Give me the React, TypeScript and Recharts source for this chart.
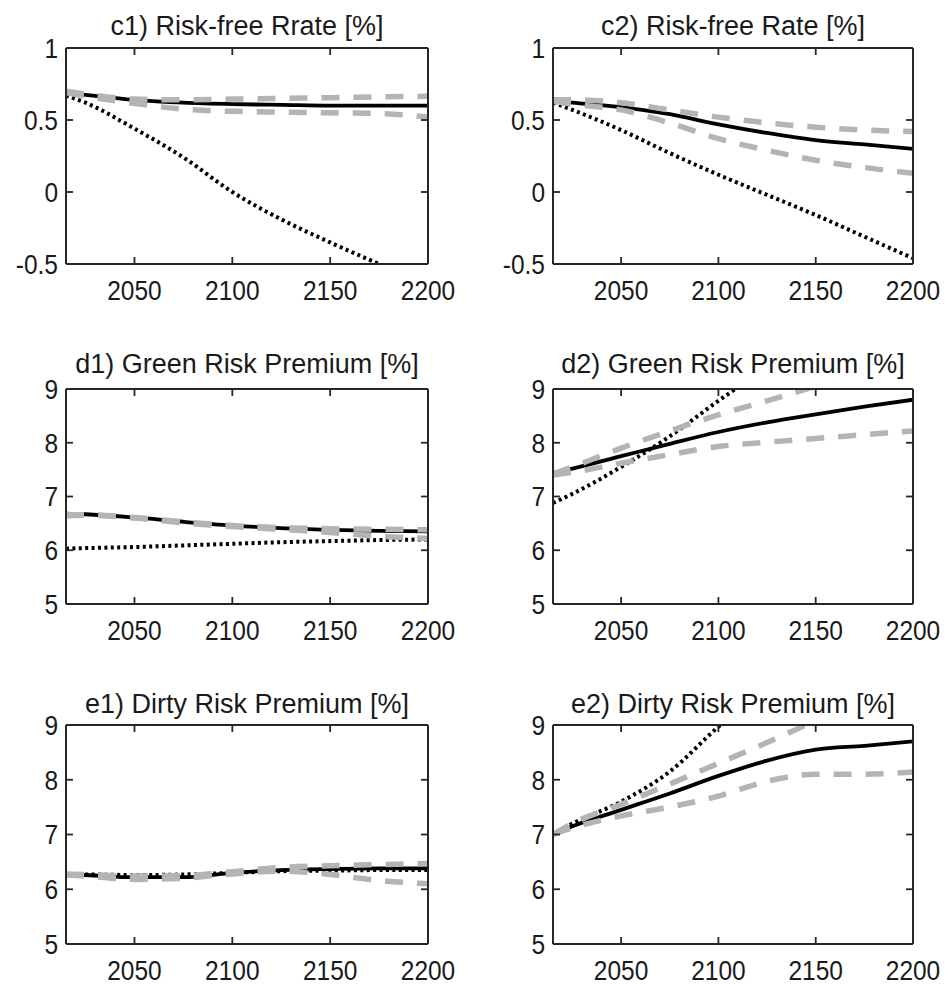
import { ComposedChart, Line, Scatter, XAxis, YAxis } from "recharts"

// ---- data ----
const years = [2015, 2025, 2050, 2075, 2100, 2125, 2150, 2175, 2200]
const xTicks = [2050, 2100, 2150, 2200]
const rateTicks = [-0.5, 0, 0.5, 1]
const premTicks = [5, 6, 7, 8, 9]

const c1Solid = [0.69, 0.675, 0.64, 0.62, 0.61, 0.605, 0.6, 0.6, 0.6]
const c1Dotted = [0.67, 0.62, 0.44, 0.24, 0.0, -0.19, -0.35, -0.5, null]
const c1GrayUp = [0.7, 0.68, 0.645, 0.64, 0.645, 0.65, 0.655, 0.66, 0.665]
const c1GrayLo = [0.69, 0.665, 0.615, 0.575, 0.56, 0.555, 0.55, 0.545, 0.52]

const c2Solid = [0.63, 0.62, 0.59, 0.54, 0.47, 0.41, 0.36, 0.33, 0.3]
const c2Dotted = [0.62, 0.57, 0.43, 0.27, 0.12, -0.02, -0.16, -0.31, -0.46]
const c2GrayUp = [0.64, 0.64, 0.62, 0.57, 0.52, 0.48, 0.45, 0.43, 0.42]
const c2GrayLo = [0.63, 0.61, 0.57, 0.48, 0.37, 0.29, 0.22, 0.17, 0.13]

const d1Solid = [6.68, 6.67, 6.61, 6.53, 6.46, 6.41, 6.38, 6.36, 6.35]
const d1Dotted = [6.03, 6.04, 6.06, 6.09, 6.12, 6.15, 6.17, 6.19, 6.2]
const d1GrayUp = [6.66, 6.66, 6.61, 6.53, 6.46, 6.42, 6.4, 6.39, 6.38]
const d1GrayLo = [6.64, 6.65, 6.6, 6.51, 6.44, 6.39, 6.33, 6.26, 6.22]

const d2Solid = [7.44, 7.52, 7.75, 7.98, 8.2, 8.38, 8.53, 8.67, 8.8]
const d2Dotted = [6.88, 7.05, 7.55, 8.12, 8.78, 9.4, null, null, null]
const d2GrayUp = [7.42, 7.55, 7.9, 8.22, 8.52, 8.78, 9.05, null, null]
const d2GrayLo = [7.4, 7.45, 7.62, 7.78, 7.93, 8.01, 8.08, 8.15, 8.22]

const e1Solid = [6.27, 6.26, 6.22, 6.22, 6.3, 6.35, 6.37, 6.38, 6.38]
const e1Dotted = [6.27, 6.27, 6.26, 6.27, 6.3, 6.33, 6.34, 6.35, 6.35]
const e1GrayUp = [6.28, 6.27, 6.24, 6.25, 6.32, 6.4, 6.43, 6.45, 6.47]
const e1GrayLo = [6.26, 6.24, 6.18, 6.2, 6.28, 6.33, 6.27, 6.16, 6.1]

const e2Solid = [7.0, 7.15, 7.45, 7.75, 8.07, 8.35, 8.55, 8.62, 8.7]
const e2Dotted = [7.0, 7.2, 7.6, 8.15, 8.97, 9.7, null, null, null]
const e2GrayUp = [7.0, 7.2, 7.55, 7.92, 8.3, 8.68, 9.08, null, null]
const e2GrayLo = [7.0, 7.12, 7.34, 7.5, 7.7, 7.97, 8.1, 8.1, 8.14]

// ---- layout ----
const FONT = "'Liberation Sans', Arial, Helvetica, sans-serif"
const FRAME = "#262626"
const GRAY = "#b4b4b4"
const TEXT = "#1a1a1a"
const X_MIN = 2015
const X_MAX = 2200
const M_LEFT = 6
const Y_W = 60
const M_TOP = 48
const M_RIGHT = 30
const X_H = 52
const TICK = 7

const cols = [
  { left: 66, right: 428 },
  { left: 553, right: 913 },
]
const rows = [
  { top: 48, bottom: 264, titleY: 35 },
  { top: 389, bottom: 604, titleY: 373 },
  { top: 725, bottom: 944, titleY: 713 },
]

type Series = (number | null)[]
type Panel = {
  title: string
  col: number
  row: number
  yDomain: [number, number]
  yTicks: number[]
  solid: Series
  dotted: Series
  grayUp: Series
  grayLo: Series
}

const panels: Panel[] = [
  { title: "c1) Risk-free Rrate [%]", col: 0, row: 0, yDomain: [-0.5, 1], yTicks: rateTicks, solid: c1Solid, dotted: c1Dotted, grayUp: c1GrayUp, grayLo: c1GrayLo },
  { title: "c2) Risk-free Rate [%]", col: 1, row: 0, yDomain: [-0.5, 1], yTicks: rateTicks, solid: c2Solid, dotted: c2Dotted, grayUp: c2GrayUp, grayLo: c2GrayLo },
  { title: "d1) Green Risk Premium [%]", col: 0, row: 1, yDomain: [5, 9], yTicks: premTicks, solid: d1Solid, dotted: d1Dotted, grayUp: d1GrayUp, grayLo: d1GrayLo },
  { title: "d2) Green Risk Premium [%]", col: 1, row: 1, yDomain: [5, 9], yTicks: premTicks, solid: d2Solid, dotted: d2Dotted, grayUp: d2GrayUp, grayLo: d2GrayLo },
  { title: "e1) Dirty Risk Premium [%]", col: 0, row: 2, yDomain: [5, 9], yTicks: premTicks, solid: e1Solid, dotted: e1Dotted, grayUp: e1GrayUp, grayLo: e1GrayLo },
  { title: "e2) Dirty Risk Premium [%]", col: 1, row: 2, yDomain: [5, 9], yTicks: premTicks, solid: e2Solid, dotted: e2Dotted, grayUp: e2GrayUp, grayLo: e2GrayLo },
]

function XTick({ x = 0, payload, labelY }: { x?: number; payload?: { value: number }; labelY: number }) {
  return (
    <text
      transform={`translate(${x},${labelY}) scale(1,1.13)`}
      textAnchor="middle"
      fontSize={24.5}
      fontFamily={FONT}
      fill={TEXT}
    >
      {payload?.value}
    </text>
  )
}

function YTick({ y = 0, payload, labelX }: { y?: number; payload?: { value: number }; labelX: number }) {
  return (
    <text
      transform={`translate(${labelX},${y}) scale(1,1.13)`}
      y={8.7}
      textAnchor="end"
      fontSize={24.5}
      fontFamily={FONT}
      fill={TEXT}
    >
      {String(payload?.value)}
    </text>
  )
}

type Dir = "up" | "down" | "left" | "right"
const DIRS: Record<Dir, [number, number]> = { up: [0, -1], down: [0, 1], left: [-1, 0], right: [1, 0] }

// MATLAB-style inward tick mark drawn at a frame position
function TickMark({ cx = 0, cy = 0, payload }: { cx?: number; cy?: number; payload?: { dir: Dir } }) {
  const [ux, uy] = DIRS[payload?.dir ?? "up"]
  return <line x1={cx} y1={cy} x2={cx + ux * TICK} y2={cy + uy * TICK} stroke={FRAME} strokeWidth={1.8} />
}

function PanelChart({ p }: { p: Panel }) {
  const c = cols[p.col]
  const r = rows[p.row]
  const plotW = c.right - c.left
  const plotH = r.bottom - r.top
  const width = plotW + M_LEFT + Y_W + M_RIGHT
  const height = plotH + M_TOP + X_H
  const pLeft = M_LEFT + Y_W
  const pBottom = M_TOP + plotH
  const [yMin, yMax] = p.yDomain
  const data = years.map((year, i) => ({
    year,
    solid: p.solid[i],
    dotted: p.dotted[i],
    grayUp: p.grayUp[i],
    grayLo: p.grayLo[i],
  }))
  const tickMarks = [
    ...xTicks.slice(0, -1).flatMap((t) => [
      { year: t, v: yMin, dir: "up" as Dir },
      { year: t, v: yMax, dir: "down" as Dir },
    ]),
    ...p.yTicks.slice(1, -1).flatMap((t) => [
      { year: X_MIN, v: t, dir: "right" as Dir },
      { year: X_MAX, v: t, dir: "left" as Dir },
    ]),
  ]
  const xCommon = {
    dataKey: "year",
    type: "number" as const,
    domain: [X_MIN, X_MAX],
    allowDataOverflow: true,
    ticks: xTicks,
    interval: 0 as const,
  }
  const yCommon = {
    type: "number" as const,
    domain: p.yDomain,
    allowDataOverflow: true,
    ticks: p.yTicks,
    interval: 0 as const,
  }
  const frame = { stroke: FRAME, strokeWidth: 2 }

  return (
    <div
      style={{
        position: "absolute",
        left: c.left - pLeft,
        top: r.top - M_TOP,
        width,
        height,
      }}
    >
      <ComposedChart width={width} height={height} data={data} margin={{ top: M_TOP, right: M_RIGHT, bottom: 0, left: M_LEFT }}>
        <XAxis {...xCommon} xAxisId="b" orientation="bottom" height={X_H} tickLine={false} axisLine={frame} tick={(t: any) => <XTick {...t} labelY={pBottom + 35.5} />} />
        <XAxis {...xCommon} xAxisId="t" orientation="top" mirror tick={false} tickLine={false} axisLine={frame} />
        <YAxis {...yCommon} yAxisId="l" orientation="left" width={Y_W} tickLine={false} axisLine={frame} tick={(t: any) => <YTick {...t} labelX={pLeft - 8} />} />
        <YAxis {...yCommon} yAxisId="r" orientation="right" mirror tick={false} tickLine={false} axisLine={frame} />

        <Line xAxisId="b" yAxisId="l" type="monotone" dataKey="solid" stroke="#000" strokeWidth={3.8} dot={false} activeDot={false} isAnimationActive={false} />
        <Line xAxisId="b" yAxisId="l" type="monotone" dataKey="dotted" stroke="#000" strokeWidth={4} strokeDasharray="3 3.4" dot={false} activeDot={false} isAnimationActive={false} />
        <Line xAxisId="b" yAxisId="l" type="monotone" dataKey="grayUp" stroke={GRAY} strokeWidth={5.5} strokeDasharray="18 14" dot={false} activeDot={false} isAnimationActive={false} />
        <Line xAxisId="b" yAxisId="l" type="monotone" dataKey="grayLo" stroke={GRAY} strokeWidth={5.5} strokeDasharray="18 14" dot={false} activeDot={false} isAnimationActive={false} />
        <Scatter
          xAxisId="b"
          yAxisId="l"
          data={tickMarks}
          dataKey="v"
          isAnimationActive={false}
          shape={(s: any) => <TickMark {...s} />}
        />
      </ComposedChart>
    </div>
  )
}

export default function App() {
  return (
    <div style={{ position: "absolute", left: 0, top: 0, width: 951, height: 984, background: "#fff" }}>
      {panels.map((p) => (
        <PanelChart key={p.title} p={p} />
      ))}
      <svg width={951} height={984} style={{ position: "absolute", left: 0, top: 0, pointerEvents: "none" }}>
        {panels.map((p) => {
          const c = cols[p.col]
          const r = rows[p.row]
          return (
            <text key={p.title} x={(c.left + c.right) / 2} y={r.titleY} textAnchor="middle" fontSize={27} fontFamily={FONT} fill={TEXT}>
              {p.title}
            </text>
          )
        })}
      </svg>
    </div>
  )
}
